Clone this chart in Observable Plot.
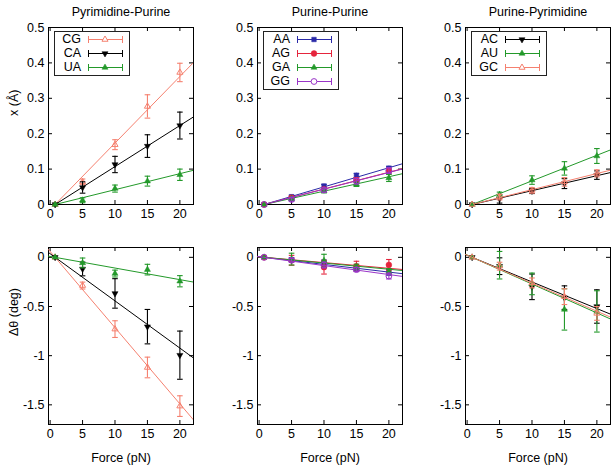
<!DOCTYPE html>
<html><head><meta charset="utf-8">
<script src="https://cdn.jsdelivr.net/npm/d3@7"></script>
<script src="https://cdn.jsdelivr.net/npm/@observablehq/plot@0.6"></script>
<style>
body{margin:0;background:#fff;}
#wrap{position:relative;width:612px;height:468px;overflow:hidden;background:#fff;}
#wrap svg{position:absolute;overflow:visible;}
</style></head>
<body><div id="wrap"></div>
<script>
// ---------- data ----------
const force = [0.77, 5, 10, 15, 20];
const xTicks = [0, 5, 10, 15, 20];
const yTicksTop = [0, 0.1, 0.2, 0.3, 0.4, 0.5];
const yTicksBottom = [0, -0.5, -1, -1.5];
const titles = ["Pyrimidine-Purine", "Purine-Purine", "Purine-Pyrimidine"];
const groupPyrPur = ["CG", "CA", "UA"];
const groupPurPur = ["AA", "AG", "GA", "GG"];
const groupPurPyr = ["AC", "AU", "GC"];
const fitZero = 0.77;

// displacement x (Å)
const xCG = [0, 0.064, 0.169, 0.277, 0.373], xCGerr = [0, 0.008, 0.014, 0.033, 0.026];
const xCA = [0, 0.048, 0.113, 0.165, 0.223], xCAerr = [0, 0.016, 0.023, 0.032, 0.038];
const xUA = [0, 0.012, 0.045, 0.066, 0.084], xUAerr = [0, 0.007, 0.010, 0.014, 0.016];
const xAA = [0, 0.022, 0.052, 0.082, 0.102], xAAerr = [0, 0.004, 0.005, 0.006, 0.006];
const xAG = [0, 0.019, 0.043, 0.069, 0.094], xAGerr = [0, 0.004, 0.005, 0.007, 0.008];
const xGA = [0, 0.016, 0.038, 0.057, 0.075], xGAerr = [0, 0.004, 0.005, 0.006, 0.010];
const xGG = [0, 0.014, 0.041, 0.066, 0.096], xGGerr = [0, 0.005, 0.006, 0.008, 0.008];
const xAC = [0, 0.016, 0.038, 0.059, 0.083], xACerr = [0, 0.012, 0.007, 0.014, 0.012];
const xAU = [0, 0.028, 0.069, 0.102, 0.137], xAUerr = [0, 0.007, 0.012, 0.019, 0.021];
const xGC = [0, 0.021, 0.040, 0.064, 0.088], xGCerr = [0, 0.008, 0.008, 0.012, 0.010];

// angle change Δθ (deg)
const tCG = [0, -0.287, -0.73, -1.12, -1.513], tCGerr = [0, 0.035, 0.085, 0.105, 0.105];
const tCA = [0, -0.118, -0.367, -0.705, -0.995], tCAerr = [0, 0.07, 0.15, 0.175, 0.245];
const tUA = [0, -0.057, -0.165, -0.125, -0.243], tUAerr = [0, 0.05, 0.035, 0.054, 0.057];
const tAA = [0, -0.024, -0.057, -0.118, -0.152], tAAerr = [0, 0.02, 0.03, 0.02, 0.03];
const tAG = [0, -0.03, -0.10, -0.09, -0.077], tAGerr = [0, 0.05, 0.07, 0.05, 0.055];
const tGA = [0, -0.018, -0.034, -0.10, -0.145], tGAerr = [0, 0.06, 0.065, 0.03, 0.03];
const tGG = [0, -0.03, -0.078, -0.125, -0.19], tGGerr = [0, 0.02, 0.03, 0.02, 0.03];
const tAC = [0, -0.09, -0.30, -0.41, -0.50], tACerr = [0, 0.085, 0.13, 0.12, 0.17];
const tAU = [0, -0.08, -0.27, -0.53, -0.55], tAUerr = [0, 0.14, 0.11, 0.21, 0.21];
const tGC = [0, -0.09, -0.26, -0.40, -0.57], tGCerr = [0, 0.04, 0.05, 0.08, 0.07];

// fitted-line slopes (per pN)
const slopeXPyrPur = [0.0188, 0.0116, 0.00453];
const slopeXPurPur = [0.0054, 0.00474, 0.00408, 0.0047];
const slopeXPurPyr = [0.00423, 0.00723, 0.00455];
const slopeTPyrPur = [-0.0775, -0.048, -0.0118];
const slopeTPurPur = [-0.0078, -0.0058, -0.0063, -0.0091];
const slopeTPurPyr = [-0.0271, -0.0294, -0.0285];

// ---------- assembly ----------
const dispX = {CG:[xCG,xCGerr],CA:[xCA,xCAerr],UA:[xUA,xUAerr],AA:[xAA,xAAerr],AG:[xAG,xAGerr],GA:[xGA,xGAerr],GG:[xGG,xGGerr],AC:[xAC,xACerr],AU:[xAU,xAUerr],GC:[xGC,xGCerr]};
const dTheta = {CG:[tCG,tCGerr],CA:[tCA,tCAerr],UA:[tUA,tUAerr],AA:[tAA,tAAerr],AG:[tAG,tAGerr],GA:[tGA,tGAerr],GG:[tGG,tGGerr],AC:[tAC,tACerr],AU:[tAU,tAUerr],GC:[tGC,tGCerr]};
const groups = [groupPyrPur, groupPurPur, groupPurPyr];
const slopesTop = [slopeXPyrPur, slopeXPurPur, slopeXPurPyr];
const slopesBottom = [slopeTPyrPur, slopeTPurPur, slopeTPurPyr];

const SALMON = "#f5806f", GREEN = "#23992a", BLUE = "#2a2aa8", RED = "#e5253d", PURPLE = "#9a35c8";
const style = {
  CG:{color:SALMON, sym:d3.symbolTriangle2, rot:0, open:true},
  CA:{color:"#000", sym:d3.symbolTriangle2, rot:180, open:false},
  UA:{color:GREEN, sym:d3.symbolTriangle2, rot:0, open:false},
  AA:{color:BLUE, sym:d3.symbolSquare2, rot:0, open:false},
  AG:{color:RED, sym:d3.symbolCircle, rot:0, open:false},
  GA:{color:GREEN, sym:d3.symbolTriangle2, rot:0, open:false},
  GG:{color:PURPLE, sym:d3.symbolCircle, rot:0, open:true},
  AC:{color:"#000", sym:d3.symbolTriangle2, rot:180, open:false},
  AU:{color:GREEN, sym:d3.symbolTriangle2, rot:0, open:false},
  GC:{color:SALMON, sym:d3.symbolTriangle2, rot:0, open:true}
};
const capSymbol = {draw(ctx, size){ const r = Math.sqrt(size/Math.PI); ctx.moveTo(-r,0); ctx.lineTo(r,0); }};

const FONT = '"Liberation Sans", Arial, sans-serif';
const FS = 12.5;
const W = 145, H = 177, ML = 48, MR = 2, MT = 27;
const frameLefts = [48, 257, 465];
const xDomain = [-0.25, 22.1];
const R = 2.9;

const wrap = document.getElementById("wrap");

function panel(col, row) {
  const top = row === 0;
  const names = groups[col];
  const src = top ? dispX : dTheta;
  const slopes = top ? slopesTop[col] : slopesBottom[col];
  const yt = top ? yTicksTop : yTicksBottom;
  const yDomain = top ? [0, 0.5] : [-1.7, 0.1];
  const MB = top ? 20 : 44;
  const marks = [];

  marks.push(Plot.frame({stroke:"#000"}));
  marks.push(Plot.tickX(xTicks, {x:d=>d, insetTop:H-4, stroke:"#000"}));
  marks.push(Plot.tickX(xTicks, {x:d=>d, insetBottom:H-4, stroke:"#000"}));
  marks.push(Plot.tickY(yt, {y:d=>d, insetRight:W-4, stroke:"#000"}));
  marks.push(Plot.tickY(yt, {y:d=>d, insetLeft:W-4, stroke:"#000"}));
  marks.push(Plot.axisX(xTicks, {tickSize:0, tickPadding:5, label:null, tickFormat:d=>String(d), fontSize:FS}));
  marks.push(Plot.axisY(yt, {tickSize:0, tickPadding:4, label:null, tickFormat:d=>String(d), fontSize:FS}));

  names.forEach((n, i) => {
    const st = style[n];
    const [vals, errs] = src[n];
    const rows = force.map((F, j) => ({F, y: vals[j], e: errs[j]}));
    const fit = xDomain.map(F => ({F, y: slopes[i] * (F - fitZero)}));
    marks.push(Plot.line(fit, {x:"F", y:"y", stroke:st.color, strokeWidth:1, clip:true}));
    const eb = rows.filter(d => d.e > 0);
    marks.push(Plot.ruleX(eb, {x:"F", y1:d=>d.y-d.e, y2:d=>d.y+d.e, stroke:st.color, strokeWidth:1.1, clip:true}));
    marks.push(Plot.dot(eb, {x:"F", y:d=>d.y-d.e, symbol:capSymbol, r:2.8, stroke:st.color, fill:"none", strokeWidth:1.1, clip:true}));
    marks.push(Plot.dot(eb, {x:"F", y:d=>d.y+d.e, symbol:capSymbol, r:2.8, stroke:st.color, fill:"none", strokeWidth:1.1, clip:true}));
    marks.push(Plot.dot(rows, {x:"F", y:"y", symbol:st.sym, rotate:st.rot, r:R,
      fill: st.open ? "none" : st.color, stroke: st.color, strokeWidth: st.open ? 1 : 0.5}));
  });

  if (top) marks.push(Plot.text([titles[col]], {frameAnchor:"top", dy:-20, fontSize:FS, fill:"#000"}));
  else marks.push(Plot.text(["Force (pN)"], {frameAnchor:"bottom", dy:37, fontSize:FS, fill:"#000"}));
  if (col === 0) marks.push(Plot.text([top ? "x (Å)" : "Δθ (deg)"], {frameAnchor:"left", dx:-35, rotate:-90, fontSize:FS, fill:"#000"}));

  const svg = Plot.plot({
    width: ML + W + MR, height: MT + H + MB,
    marginLeft: ML, marginRight: MR, marginTop: MT, marginBottom: MB,
    x: {domain: xDomain, axis: null},
    y: {domain: yDomain, axis: null},
    style: {fontFamily: FONT, fontSize: FS + "px", background: "transparent", color: "#000", overflow: "visible"},
    marks
  });
  svg.style.left = (frameLefts[col] - ML) + "px";
  svg.style.top = (top ? 0 : 220) + "px";
  if (top) drawLegend(svg, names);
  wrap.appendChild(svg);
}

function drawLegend(svg, names) {
  const g = d3.select(svg).append("g").attr("font-family", FONT).attr("font-size", FS);
  const x0 = ML + 6, y0 = MT + 4, w = 75, h = names.length * 14 + 2;
  g.append("rect").attr("x", x0 + 0.5).attr("y", y0 + 0.5).attr("width", w).attr("height", h)
    .attr("fill", "none").attr("stroke", "#222");
  names.forEach((n, i) => {
    const st = style[n];
    const cy = y0 + 8 + i * 14;
    const lx1 = ML + 40, lx2 = ML + 74, mx = ML + 57;
    g.append("text").attr("x", ML + 33).attr("y", cy).attr("dy", "0.35em").attr("text-anchor", "end").attr("fill", "#000").text(n);
    g.append("line").attr("x1", lx1).attr("x2", lx2).attr("y1", cy + 0.5).attr("y2", cy + 0.5).attr("stroke", st.color);
    [lx1, lx2].forEach(x => g.append("line").attr("x1", x + 0.5).attr("x2", x + 0.5).attr("y1", cy - 3).attr("y2", cy + 4).attr("stroke", st.color));
    g.append("path").attr("d", d3.symbol(st.sym, Math.PI * R * R)())
      .attr("transform", `translate(${mx},${cy + 0.5}) rotate(${st.rot})`)
      .attr("fill", st.open ? "#fff" : st.color).attr("stroke", st.color).attr("stroke-width", st.open ? 1 : 0.5);
  });
}

for (let row = 0; row < 2; row++) for (let col = 0; col < 3; col++) panel(col, row);
</script>
</body></html>
